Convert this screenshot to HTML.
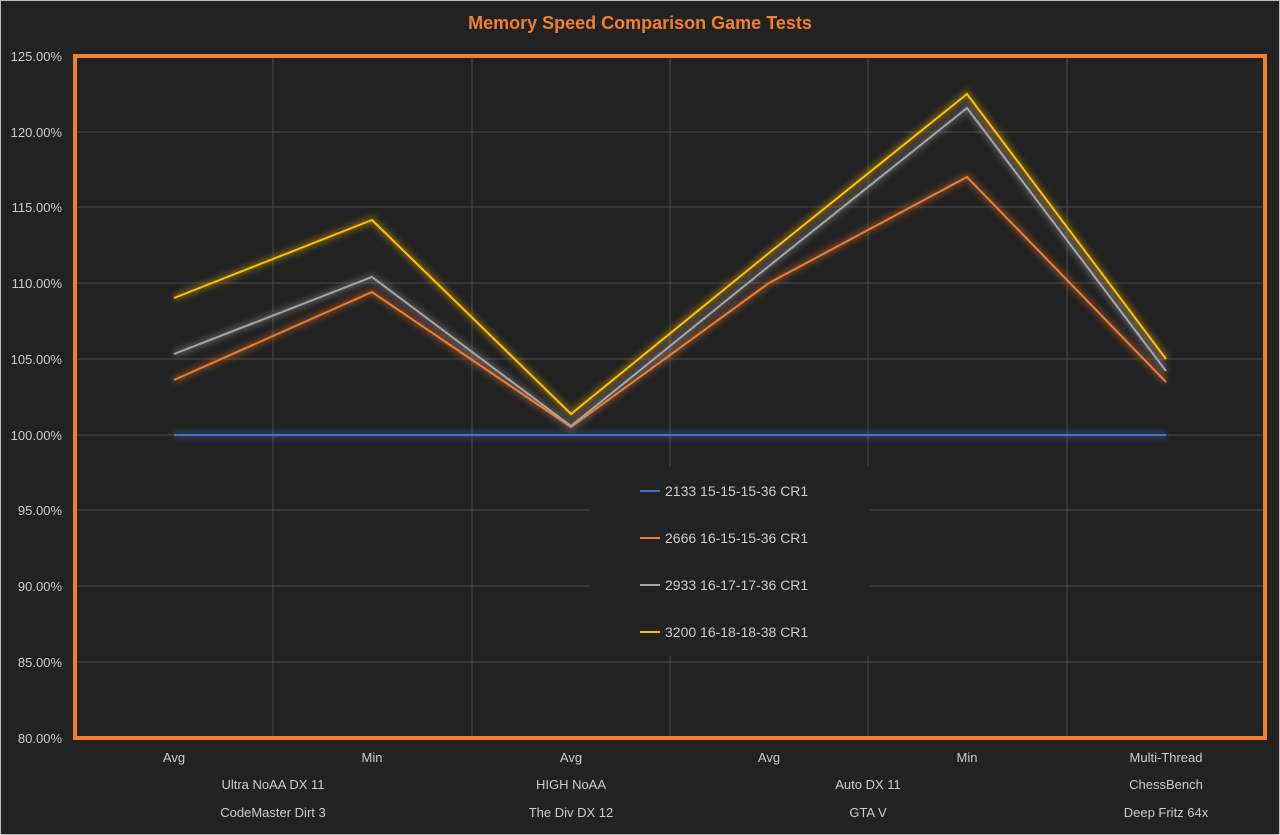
<!DOCTYPE html>
<html><head><style>
html,body{margin:0;padding:0;background:#222;}
svg{display:block;font-family:"Liberation Sans",sans-serif;}
</style></head><body>
<svg width="1280" height="835" viewBox="0 0 1280 835" xmlns="http://www.w3.org/2000/svg">
<defs>
<filter id="glow" x="-10%" y="-10%" width="120%" height="120%"><feGaussianBlur stdDeviation="3"/></filter>
</defs>
<rect x="0.5" y="0.5" width="1279" height="834" fill="#222" stroke="#bbb"/>
<text x="640" y="29" text-anchor="middle" fill="#f07f2e" font-size="18" font-weight="bold">Memory Speed Comparison Game Tests</text>
<g stroke="#4a4a4a" stroke-width="1">
<line x1="75" x2="1265" y1="132" y2="132"/><line x1="75" x2="1265" y1="207" y2="207"/>
<line x1="75" x2="1265" y1="283" y2="283"/><line x1="75" x2="1265" y1="359" y2="359"/>
<line x1="75" x2="1265" y1="435" y2="435"/><line x1="75" x2="1265" y1="510" y2="510"/>
<line x1="75" x2="1265" y1="586" y2="586"/><line x1="75" x2="1265" y1="662" y2="662"/>
<line x1="273" x2="273" y1="56" y2="738"/><line x1="472" x2="472" y1="56" y2="738"/>
<line x1="670" x2="670" y1="56" y2="738"/><line x1="868" x2="868" y1="56" y2="738"/>
<line x1="1067" x2="1067" y1="56" y2="738"/>
</g>
<rect x="590" y="466" width="280" height="190" fill="#222"/>
<g fill="none" stroke-width="7" opacity="0.35" filter="url(#glow)">
<polyline stroke="#4472c4" points="174,435 372,435 571,435 769,435 967,435 1166,435"/>
<polyline stroke="#ed7d31" points="174,380 372,292 571,427 769,283 967,177 1166,382"/>
<polyline stroke="#a5a5a5" points="174,354 372,277 571,426 769,266 967,108 1166,371"/>
<polyline stroke="#ffc000" points="174,298 372,220 571,414 769,253 967,94 1166,359"/>
</g>
<g fill="none" stroke-width="2">
<polyline stroke="#4472c4" points="174,435 372,435 571,435 769,435 967,435 1166,435"/>
<polyline stroke="#ed7d31" points="174,380 372,292 571,427 769,283 967,177 1166,382"/>
<polyline stroke="#a5a5a5" points="174,354 372,277 571,426 769,266 967,108 1166,371"/>
<polyline stroke="#ffc000" points="174,298 372,220 571,414 769,253 967,94 1166,359"/>
</g>
<rect x="75" y="56" width="1190" height="682" fill="none" stroke="#f07f2e" stroke-width="4"/>
<g fill="#ccc" font-size="13" text-anchor="end">
<text x="62" y="61">125.00%</text><text x="62" y="137">120.00%</text><text x="62" y="212">115.00%</text>
<text x="62" y="288">110.00%</text><text x="62" y="364">105.00%</text><text x="62" y="440">100.00%</text>
<text x="62" y="515">95.00%</text><text x="62" y="591">90.00%</text><text x="62" y="667">85.00%</text>
<text x="62" y="743">80.00%</text>
</g>
<g fill="#ccc" font-size="13" text-anchor="middle">
<text x="174" y="762">Avg</text><text x="372" y="762">Min</text><text x="571" y="762">Avg</text>
<text x="769" y="762">Avg</text><text x="967" y="762">Min</text><text x="1166" y="762">Multi-Thread</text>
<text x="273" y="789">Ultra NoAA DX 11</text><text x="571" y="789">HIGH NoAA</text>
<text x="868" y="789">Auto DX 11</text><text x="1166" y="789">ChessBench</text>
<text x="273" y="817">CodeMaster Dirt 3</text><text x="571" y="817">The Div DX 12</text>
<text x="868" y="817">GTA V</text><text x="1166" y="817">Deep Fritz 64x</text>
</g>
<g stroke-width="2">
<line x1="640" x2="660" y1="491" y2="491" stroke="#4472c4"/>
<line x1="640" x2="660" y1="538" y2="538" stroke="#ed7d31"/>
<line x1="640" x2="660" y1="585" y2="585" stroke="#a5a5a5"/>
<line x1="640" x2="660" y1="632" y2="632" stroke="#ffc000"/>
</g>
<g fill="#ccc" font-size="14">
<text x="665" y="496">2133 15-15-15-36 CR1</text>
<text x="665" y="543">2666 16-15-15-36 CR1</text>
<text x="665" y="590">2933 16-17-17-36 CR1</text>
<text x="665" y="637">3200 16-18-18-38 CR1</text>
</g>
</svg>
</body></html>
